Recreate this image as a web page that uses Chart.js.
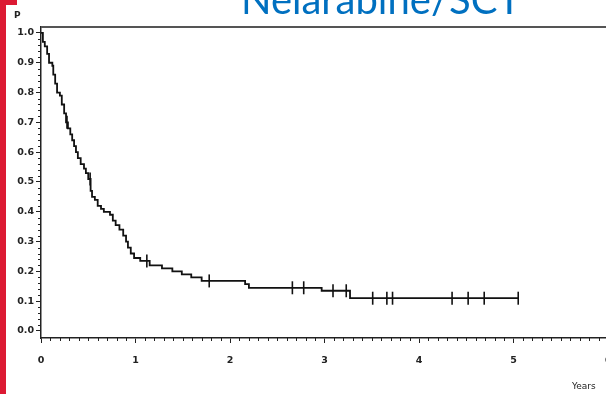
<!DOCTYPE html>
<html>
<head>
<meta charset="utf-8">
<script src="https://cdn.jsdelivr.net/npm/chart.js@4.4.0/dist/chart.umd.min.js"></script>
<style>
  html, body { margin: 0; padding: 0; background: #fff; overflow: hidden; }
  #wrap { position: relative; width: 606px; height: 394px; overflow: hidden; }
  #title { position: absolute; left: 181px; top: -21.5px; width: 400px; text-align: center;
           font-family: Lato, sans-serif; font-size: 40px; line-height: 40px; color: #0070C0; white-space: nowrap; }
  .red { position: absolute; background: #DC1A33; }
  .lbl { position: absolute; font-family: "DejaVu Sans", sans-serif; font-size: 9px; color: #222; line-height: 10px; font-weight: bold; }
  canvas { position: absolute; left: 0; top: 0; }
</style>
</head>
<body>
<div id="wrap">
  <canvas id="km" width="630" height="394"></canvas>
  <div id="title">Nelarabine/SCT</div>
  <div class="red" style="left:0;top:0;width:6px;height:394px"></div>
  <div class="red" style="left:0;top:0;width:17px;height:5px"></div>
  <div class="lbl" style="left:14px;top:10px">P</div>
  <div class="lbl" style="left:572px;top:381px;font-weight:normal">Years</div>
</div>
<script>
// survival step curve (time in years, S after the drop)
const stepTimes = [0, 0.02, 0.04, 0.065, 0.085, 0.12, 0.13, 0.15, 0.17, 0.20, 0.22, 0.245, 0.265, 0.285,
  0.31, 0.33, 0.35, 0.37, 0.39, 0.42, 0.455, 0.475, 0.50, 0.525, 0.54, 0.57, 0.60, 0.635, 0.665,
  0.73, 0.76, 0.79, 0.83, 0.87, 0.90, 0.92, 0.95, 0.985, 1.05, 1.15, 1.28, 1.39, 1.49, 1.59, 1.70,
  2.16, 2.20, 2.97, 3.27];
const stepSurv = [1.0, 0.97, 0.955, 0.93, 0.90, 0.89, 0.86, 0.83, 0.80, 0.79, 0.76, 0.73, 0.70, 0.68,
  0.66, 0.64, 0.62, 0.60, 0.58, 0.56, 0.545, 0.53, 0.51, 0.47, 0.45, 0.44, 0.42, 0.41, 0.40,
  0.39, 0.37, 0.355, 0.34, 0.32, 0.30, 0.28, 0.26, 0.245, 0.235, 0.22, 0.21, 0.20, 0.19, 0.18, 0.168,
  0.157, 0.145, 0.135, 0.11];
const lastTime = 5.05;
// censored observations
const censorTimes = [0.275, 0.52, 1.12, 1.78, 2.66, 2.78, 3.09, 3.23, 3.51, 3.66, 3.72, 4.35, 4.52, 4.69, 5.05];
// axis tick labels
const xTicks = [0, 1, 2, 3, 4, 5, 6];
const yTicks = [0, 0.1, 0.2, 0.3, 0.4, 0.5, 0.6, 0.7, 0.8, 0.9, 1.0];

function survAt(t) {
  let s = stepSurv[0];
  for (let i = 0; i < stepTimes.length; i++) {
    if (stepTimes[i] <= t) s = stepSurv[i];
  }
  return s;
}

const curve = stepTimes.map(function(t, i) { return {x: t, y: stepSurv[i]}; });
curve.push({x: lastTime, y: survAt(lastTime)});
const censors = censorTimes.map(function(t) { return {x: t, y: survAt(t)}; });

const tickFont = {family: 'DejaVu Sans', size: 9.5, weight: 'bold'};

// minor ticks + top frame line
const framePlugin = {
  id: 'frame',
  afterDraw(chart) {
    const c = chart.ctx, a = chart.chartArea, xs = chart.scales.x, ys = chart.scales.y;
    c.save();
    c.strokeStyle = '#555';
    c.lineWidth = 2;
    c.beginPath();
    c.moveTo(a.left, a.top);
    c.lineTo(a.right, a.top);
    c.stroke();
    c.strokeStyle = '#222';
    c.lineWidth = 1;
    c.beginPath();
    for (let i = 1; i < 60; i++) {
      if (i % 10 === 0) continue;
      const px = Math.round(xs.getPixelForValue(i / 10)) + 0.5;
      c.moveTo(px, a.bottom);
      c.lineTo(px, a.bottom + 3);
    }
    for (let i = 1; i < 50; i++) {
      if (i % 5 === 0) continue;
      const py = Math.round(ys.getPixelForValue(i / 50)) + 0.5;
      c.moveTo(a.left, py);
      c.lineTo(a.left - 3, py);
    }
    c.stroke();
    c.restore();
  }
};

new Chart(document.getElementById('km'), {
  type: 'scatter',
  data: {
    datasets: [{
      data: curve,
      showLine: true,
      stepped: true,
      borderColor: '#111',
      borderWidth: 1.8,
      pointRadius: 0
    }, {
      data: censors,
      showLine: false,
      pointStyle: 'line',
      rotation: 90,
      pointRadius: 6.5,
      borderColor: '#111',
      borderWidth: 1.6
    }]
  },
  options: {
    responsive: false,
    animation: false,
    layout: { padding: { top: 27, right: 22, left: 0, bottom: 0 } },
    plugins: { legend: { display: false }, tooltip: { enabled: false } },
    scales: {
      x: {
        type: 'linear', min: 0, max: 6,
        afterBuildTicks: function(s) { s.ticks = xTicks.map(function(v) { return {value: v}; }); },
        afterFit: function(s) { s.height = 56; },
        grid: { drawOnChartArea: false, tickLength: 5, tickColor: '#222', tickWidth: 1 },
        border: { color: '#222', width: 1.5 },
        ticks: { font: tickFont, color: '#222', padding: 12, maxRotation: 0 }
      },
      y: {
        type: 'linear', min: -0.0235, max: 1.02,
        afterBuildTicks: function(s) { s.ticks = yTicks.map(function(v) { return {value: v}; }); },
        afterFit: function(s) { s.width = 41; },
        grid: { drawOnChartArea: false, tickLength: 5, tickColor: '#222', tickWidth: 1 },
        border: { color: '#222', width: 1.5 },
        ticks: { font: tickFont, color: '#222', padding: 2,
          callback: function(v) { return v.toFixed(1); } }
      }
    }
  },
  plugins: [framePlugin]
});
</script>
</body>
</html>
